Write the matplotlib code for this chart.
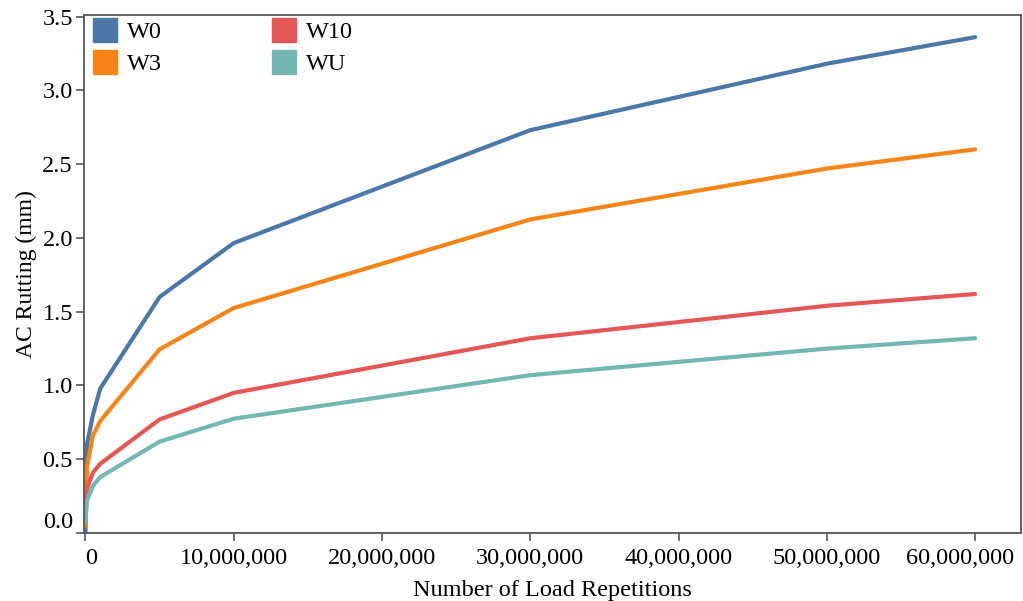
import matplotlib
matplotlib.use("Agg")
import matplotlib.pyplot as plt
import matplotlib.transforms as mtransforms
from matplotlib.ticker import FuncFormatter
from matplotlib.lines import Line2D

plt.rcParams['font.family'] = ['Liberation Serif', 'DejaVu Serif']

# load repetitions
reps = [0, 100000, 500000, 1000000, 5000000, 10000000, 30000000, 50000000, 60000000]

# rutting (mm) for each wheel config
w0 = [0.0, 0.60, 0.80, 0.98, 1.60, 1.965, 2.73, 3.18, 3.36]
w3 = [0.05, 0.45, 0.66, 0.76, 1.245, 1.525, 2.125, 2.47, 2.60]
w10 = [0.10, 0.30, 0.41, 0.47, 0.77, 0.95, 1.32, 1.54, 1.62]
wu = [0.08, 0.22, 0.32, 0.38, 0.62, 0.775, 1.07, 1.25, 1.32]

names = ['W0', 'W3', 'W10', 'WU']
colors = ['#4c78a8', '#f58518', '#e45756', '#72b7b2']
series = [w0, w3, w10, wu]

fig = plt.figure(figsize=(10.23, 6.01), dpi=100)
ax = fig.add_axes([0.0821, 0.113, 0.916, 0.862])

for vals, c in zip(series, colors):
    ax.plot(reps, vals, color=c, lw=3, solid_capstyle='round', solid_joinstyle='round')

ax.set_xlim(-100000, 63100000)
ax.set_ylim(0, 3.51)
ax.set_xticks([0, 10000000, 20000000, 30000000, 40000000, 50000000, 60000000])
ax.set_yticks([0, 0.5, 1.0, 1.5, 2.0, 2.5, 3.0, 3.5])
ax.xaxis.set_major_formatter(FuncFormatter(lambda v, p: f"{int(v):,}"))
ax.yaxis.set_major_formatter(FuncFormatter(lambda v, p: f"{v:.1f}"))
ax.tick_params(axis='both', labelsize=17.5, length=6, width=1.2, color='#555555', direction='out')
ax.tick_params(axis='x', pad=5)
ax.tick_params(axis='y', pad=2)

for s in ax.spines.values():
    s.set_color('#555555')
    s.set_linewidth(1.3)

# first/last labels sit flush like the original
fig.canvas.draw()
xl = ax.get_xticklabels()
xl[0].set_horizontalalignment('left')
xl[-1].set_transform(xl[-1].get_transform() +
                     mtransforms.ScaledTranslation(-0.15, 0, fig.dpi_scale_trans))
ax.get_yticklabels()[0].set_verticalalignment('bottom')

ax.set_xlabel('Number of Load Repetitions', fontsize=17.5, labelpad=8)
ax.set_ylabel('AC Rutting (mm)', fontsize=17, labelpad=4)

handles = [Line2D([], [], marker='s', ls='', markersize=17, color=c) for c in colors]
# order columns like the original: W0, W3 | W10, WU
ax.legend(handles, names, ncol=2, loc='upper left', frameon=False, fontsize=17.5,
          bbox_to_anchor=(-0.016, 1.03), columnspacing=4.4, handletextpad=0.3,
          labelspacing=0.4, handlelength=1.2)

fig.savefig('out.png', dpi=100)
